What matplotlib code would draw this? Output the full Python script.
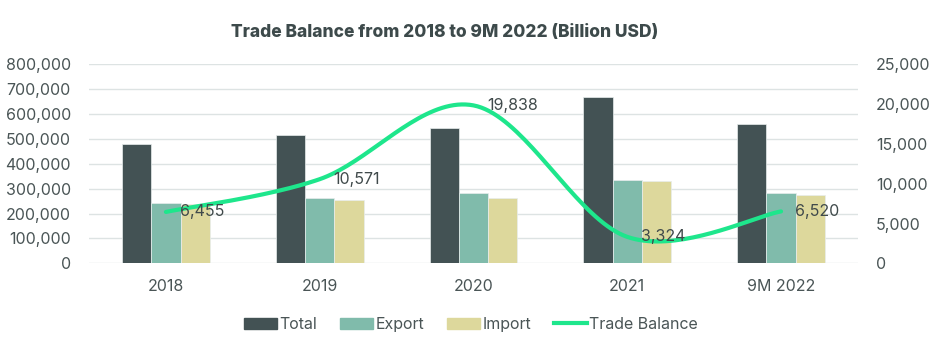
import numpy as np
import matplotlib
matplotlib.use("Agg")
from matplotlib import pyplot as plt
from matplotlib.ticker import FuncFormatter
from matplotlib.lines import Line2D
from matplotlib.patches import Patch

categories = ["2018", "2019", "2020", "2021", "9M 2022"]
total = [480170, 517260, 545360, 668500, 558520]
export = [243480, 264190, 282650, 336310, 282500]
imports = [236690, 253070, 262790, 332250, 276000]
trade_balance = [6455, 10571, 19838, 3324, 6520]

c_total = "#435254"
c_export = "#80bbab"
c_import = "#ddd89c"
c_line = "#1ee68c"
c_text = "#4a5556"

plt.rcParams['font.family'] = ['Inter', 'DejaVu Sans']


def smooth(xs, ys, n=40):
    # catmull-rom style smoothing, like the office "smoothed line"
    pts = np.column_stack([xs, ys]).astype(float)
    pts = np.vstack([pts[0], pts, pts[-1]])
    out_x, out_y = [], []
    for i in range(1, len(pts) - 2):
        p0, p1, p2, p3 = pts[i - 1], pts[i], pts[i + 1], pts[i + 2]
        c1 = p1 + (p2 - p0) / 6
        c2 = p2 - (p3 - p1) / 6
        t = np.linspace(0, 1, n)[:, None]
        b = (1 - t) ** 3 * p1 + 3 * (1 - t) ** 2 * t * c1 + 3 * (1 - t) * t ** 2 * c2 + t ** 3 * p2
        out_x.extend(b[:, 0])
        out_y.extend(b[:, 1])
    return out_x, out_y


fig = plt.figure(figsize=(9.4, 3.42), dpi=100)
ax = fig.add_axes([0.0947, 0.230, 0.818, 0.582])
x = np.arange(len(categories))
w = 0.19
ax.bar(x - w, total, w, color=c_total, edgecolor="#e8eded", linewidth=0.5, zorder=2)
ax.bar(x, export, w, color=c_export, edgecolor="#e8eded", linewidth=0.5, zorder=2)
ax.bar(x + w, imports, w, color=c_import, edgecolor="#e8eded", linewidth=0.5, zorder=2)

ax.set_xlim(-0.5, len(categories) - 0.5)
ax.set_ylim(0, 800000)
ax.set_yticks(np.arange(0, 800001, 100000))
ax.yaxis.set_major_formatter(FuncFormatter(lambda v, p: f"{int(v):,}"))
ax.grid(axis="y", color="#dde3e3", linewidth=1, zorder=0)
ax.set_axisbelow(True)
for s in ax.spines.values():
    s.set_visible(False)
ax.tick_params(axis="both", length=0, labelsize=11.5, colors=c_text, pad=11)
ax.tick_params(axis="y", pad=13)
ax.set_xticks(x)
ax.set_xticklabels(categories)

ax2 = ax.twinx()
ax2.set_ylim(0, 25000)
ax2.set_yticks(np.arange(0, 25001, 5000))
ax2.yaxis.set_major_formatter(FuncFormatter(lambda v, p: f"{int(v):,}"))
for s in ax2.spines.values():
    s.set_visible(False)
ax2.tick_params(axis="y", length=0, labelsize=11.5, colors=c_text, pad=13)
sx, sy = smooth(x, trade_balance)
ax2.plot(sx, sy, color=c_line, linewidth=3, solid_capstyle="round", zorder=3)
for xi, v in zip(x, trade_balance):
    ax2.annotate(f"{v:,}", (xi, v), xytext=(10, 0), textcoords="offset points",
                 ha="left", va="center", fontsize=11.5, color="#404a4b", zorder=4)

fig.text(0.473, 0.905, "Trade Balance from 2018 to 9M 2022 (Billion USD)", ha="center", va="center",
         fontsize=12.5, fontweight="heavy", color="#3d4a4b")

handles = [Patch(color=c_total), Patch(color=c_export), Patch(color=c_import),
           Line2D([0], [0], color=c_line, linewidth=3)]
fig.legend(handles, ["Total", "Export", "Import", "Trade Balance"], loc="center", bbox_to_anchor=(0.501, 0.052),
           ncol=4, frameon=False, fontsize=11.5, handlelength=2.1, handleheight=0.7, handletextpad=0.15,
           columnspacing=1.4, labelcolor=c_text)

plt.savefig("out.png", dpi=100)
